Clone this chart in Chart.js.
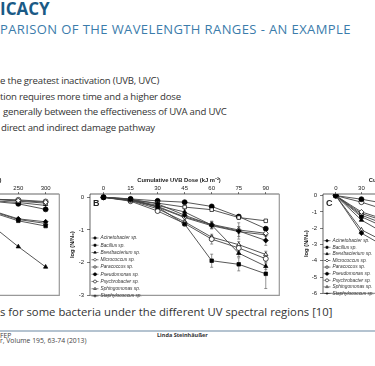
<!DOCTYPE html>
<html>
<head>
<meta charset="utf-8">
<script src="https://cdn.jsdelivr.net/npm/chart.js@4.4.1/dist/chart.umd.min.js"></script>
<style>
body{margin:0;width:375px;height:366px;overflow:hidden;position:relative;background:#fff;font-family:"Open Sans",sans-serif}
.t{position:absolute;white-space:nowrap;line-height:1}
.b{font-size:9.6px;letter-spacing:-0.2px;color:#333}
canvas{position:absolute}
</style>
</head>
<body>
<div class="t" style="left:0;top:0px;font-size:17px;font-weight:700;color:#1a5a86">ICACY</div>
<div class="t" style="left:0;top:22.7px;font-size:13px;letter-spacing:0.4px;color:#3b7cab">PARISON OF THE WAVELENGTH RANGES - AN EXAMPLE</div>
<div class="t b" style="left:0;top:76px">e the greatest inactivation (UVB, UVC)</div>
<div class="t b" style="left:0;top:91.7px">tion requires more time and a higher dose</div>
<div class="t b" style="left:3px;top:107.4px">generally between the effectiveness of UVA and UVC</div>
<div class="t b" style="left:1px;top:123.1px">direct and indirect damage pathway</div>
<div class="t" style="left:0;top:306px;font-size:11.3px;color:#333">s for some bacteria under the different UV spectral regions [10]</div>
<div style="position:absolute;left:0;top:330px;width:375px;height:2px;background:#b4c3d0"></div>
<div class="t" style="left:0;top:333px;font-size:6.8px;color:#444">FEP</div>
<div class="t" style="left:0;top:338px;font-size:6.8px;color:#444">r, Volume 195, 63-74 (2013)</div>
<div class="t" style="left:157px;top:333px;font-size:5.5px;font-weight:700;color:#333">Linda Steinhäußer</div>

<canvas id="chartA" width="226" height="132" style="left:-162px;top:170px"></canvas>
<canvas id="chartB" width="224" height="132" style="left:60px;top:170px"></canvas>
<canvas id="chartC" width="209" height="130" style="left:298px;top:170px"></canvas>

<script>
const species = ['Acinetobacter sp.', 'Bacillus sp.', 'Brevibacterium sp.', 'Micrococcus sp.', 'Paracoccus sp.',
                 'Pseudomonas sp.', 'Psychrobacter sp.', 'Sphingomonas sp.', 'Staphylococcus sp.']

// panel A (UVA), only the right end is in view
const doseA = [200, 250, 300]
const valuesA = [
    [-0.40, -0.66, -0.75],
    [-0.45, -0.72, -0.88],
    [-0.84, -1.51, -2.13],
    [-0.05, -0.10, -0.15],
    [-0.05, -0.12, -0.18],
    [-0.12, -0.20, -0.37],
    [-0.06, -0.08, -0.13],
    [-0.42, -0.68, -0.80],
    [-0.10, -0.16, -0.25]
]

// panel B (UVB)
const doseB = [0, 15, 30, 45, 60, 75, 90]
const valuesB = [
    [0, -0.06, -0.20, -0.55, -0.85, -1.03, -1.32],
    [0, -0.05, -0.30, -0.82, -1.94, -2.05, -2.34],
    [0, -0.08, -0.25, -0.45, -0.85, -1.71, -2.11],
    [0, -0.10, -0.28, -0.60, -0.83, -1.00, -1.10],
    [0, -0.08, -0.18, -0.30, -0.38, -0.62, -0.72],
    [0, -0.05, -0.11, -0.15, -0.28, -0.59, -0.96],
    [0, -0.12, -0.42, -0.80, -1.28, -1.55, -1.88],
    [0, -0.10, -0.35, -0.75, -1.22, -1.45, -1.75],
    [0, -0.08, -0.30, -0.62, -0.87, -1.05, -1.15]
]
const errorsB = [
    [0, 0, 0, 0.05, 0.10, 0.25, 0.15],
    [0, 0, 0, 0.05, 0.20, 0.20, 0.45],
    [0, 0, 0, 0.10, 0.10, 0.10, 0.10],
    [0, 0, 0, 0, 0.10, 0.10, 0.10],
    [0, 0, 0, 0, 0, 0.05, 0],
    [0, 0, 0, 0, 0.05, 0.05, 0.05],
    [0, 0, 0, 0.05, 0.15, 0.10, 0.10],
    [0, 0, 0, 0.05, 0.05, 0.10, 0.10],
    [0, 0, 0, 0.05, 0.10, 0.15, 0.15]
]

// panel C (UVC), only the left end is in view
const doseC = [0, 30, 60]
const valuesC = [
    [0, -2.30, -3.20],
    [0, -1.30, -2.00],
    [0, -1.50, -2.40],
    [0, -1.00, -1.50],
    [0, -1.20, -1.80],
    [0, -0.22, -0.50],
    [0, -0.40, -0.90],
    [0, -2.10, -2.90],
    [0, -1.10, -1.60]
]

const ticksAx = [0, 50, 100, 150, 200, 250, 300]
const ticksBx = [0, 15, 30, 45, 60, 75, 90]
const ticksCx = [0, 30, 60, 90, 120, 150, 180]
const ticksABy = [0, -1, -2, -3]
const ticksCy = [0, -1, -2, -3, -4, -5, -6]

const markers = ['rectRot', 'rect', 'triangle', 'rectRot', 'rect', 'circle', 'circle', 'triangle', 'cross']
const filled = [true, true, true, false, false, true, false, false, true]

Chart.defaults.font.family = '"Liberation Sans", Arial, sans-serif'

function makeSets(dose, values, errors){
    return values.map((vals, i) => ({
        label: species[i],
        data: dose.map((d, j) => ({x: d, y: vals[j]})),
        errors: errors ? errors[i] : null,
        borderColor: '#444',
        borderWidth: 0.9,
        pointStyle: markers[i],
        pointRadius: 2.5,
        pointBorderWidth: 0.7,
        pointBorderColor: '#000',
        pointBackgroundColor: filled[i] ? '#000' : '#fff',
        tension: 0
    }))
}

const panelPlugin = {
    id: 'panel',
    beforeDatasetsDraw(chart){
        const ctx = chart.ctx
        const xs = chart.scales.x, ys = chart.scales.y
        ctx.save()
        ctx.strokeStyle = '#666'
        ctx.lineWidth = 0.7
        chart.data.datasets.forEach(ds => {
            if(!ds.errors) return
            ds.data.forEach((p, i) => {
                const e = ds.errors[i]
                if(!e) return
                const px = xs.getPixelForValue(p.x)
                const y1 = ys.getPixelForValue(p.y + e)
                const y2 = ys.getPixelForValue(p.y - e)
                ctx.beginPath()
                ctx.moveTo(px, y1); ctx.lineTo(px, y2)
                ctx.moveTo(px - 1.5, y1); ctx.lineTo(px + 1.5, y1)
                ctx.moveTo(px - 1.5, y2); ctx.lineTo(px + 1.5, y2)
                ctx.stroke()
            })
        })
        ctx.restore()
    },
    afterDraw(chart, args, o){
        const ctx = chart.ctx, a = chart.chartArea
        ctx.save()
        // frame
        ctx.strokeStyle = '#222'
        ctx.lineWidth = 0.7
        ctx.beginPath()
        ctx.moveTo(a.left, a.bottom); ctx.lineTo(a.left, a.top); ctx.lineTo(a.right, a.top)
        ctx.stroke()
        ctx.strokeStyle = '#999'
        ctx.lineWidth = 1.2
        ctx.beginPath()
        ctx.moveTo(a.right, a.top); ctx.lineTo(a.right, a.bottom); ctx.lineTo(a.left, a.bottom)
        ctx.stroke()

        // axis title
        ctx.fillStyle = '#222'
        ctx.font = 'bold 5.8px "Liberation Sans", Arial'
        ctx.textAlign = 'center'
        ctx.textBaseline = 'middle'
        ctx.fillText(o.title, o.titleX, o.titleY)

        // panel letter
        if(o.letter){
            ctx.font = 'bold 9px "Liberation Sans", Arial'
            ctx.textAlign = 'left'
            ctx.fillText(o.letter, a.left + 3, a.top + o.letterY)
        }

        // legend inside the plot
        if(o.legend){
            ctx.font = 'italic 4.8px "Liberation Sans", Arial'
            ctx.textAlign = 'left'
            chart.data.datasets.forEach((ds, i) => {
                const x = a.left + o.legend.left
                const y = a.top + o.legend.top + i * o.legend.step
                ctx.strokeStyle = '#333'
                ctx.lineWidth = 0.6
                ctx.beginPath(); ctx.moveTo(x - 3.5, y); ctx.lineTo(x + 3.5, y); ctx.stroke()
                ctx.fillStyle = ds.pointBackgroundColor
                ctx.strokeStyle = '#000'
                ctx.lineWidth = 0.6
                Chart.helpers.drawPoint(ctx, {pointStyle: ds.pointStyle, radius: 1.5, borderWidth: 0.6, rotation: 0}, x, y)
                ctx.fillStyle = '#333'
                ctx.fillText(ds.label, x + 5.5, y)
            })
        }
        ctx.restore()
    }
}

function axisX(min, max, ticks){
    return {
        type: 'linear', position: 'top', min: min, max: max,
        afterBuildTicks: s => { s.ticks = ticks.map(v => ({value: v})) },
        afterFit: s => { s.height = 24 },
        grid: {drawOnChartArea: false, tickLength: 2, color: '#222', lineWidth: 0.6},
        border: {display: false},
        ticks: {font: {size: 6}, color: '#222', padding: 0, maxRotation: 0, autoSkip: false}
    }
}

function axisY(min, max, ticks, w, pad){
    return {
        min: min, max: max,
        afterBuildTicks: s => { s.ticks = ticks.map(v => ({value: v})) },
        afterFit: s => { s.width = w },
        grid: {drawOnChartArea: false, tickLength: 3, color: '#222', lineWidth: 0.6},
        border: {display: false},
        ticks: {font: {size: 6}, color: '#222', padding: 3, autoSkip: false},
        title: {display: true, text: 'log (N/N₀)', font: {size: 5.8, weight: 'bold'}, color: '#222', padding: {top: pad, bottom: 0}}
    }
}

function makePanel(id, sets, xScale, yScale, panel, pad){
    new Chart(document.getElementById(id), {
        type: 'line',
        data: {datasets: sets},
        options: {
            responsive: false,
            animation: false,
            devicePixelRatio: 1,
            layout: {padding: pad},
            scales: {x: xScale, y: yScale},
            plugins: {legend: {display: false}, tooltip: {enabled: false}, panel: panel}
        },
        plugins: [panelPlugin]
    })
}

makePanel('chartA', makeSets(doseA, valuesA),
    axisX(-25, 325, ticksAx), axisY(-3, 0.1, ticksABy, 30, 9),
    {title: 'Cumulative UVA Dose (kJ m⁻²)', titleX: 122, titleY: 10},
    {top: 0, right: 2, bottom: 1, left: 0})

makePanel('chartB', makeSets(doseB, valuesB, errorsB),
    axisX(-7.5, 97.5, ticksBx), axisY(-3, 0.1, ticksABy, 30, 9),
    {title: 'Cumulative UVB Dose (kJ m⁻²)', titleX: 119, titleY: 10, letter: 'B', letterY: 10,
     legend: {left: 5, top: 44, step: 7.25}},
    {top: 0, right: 2, bottom: 1, left: 0})

makePanel('chartC', makeSets(doseC, valuesC),
    axisX(-15, 195, ticksCx), axisY(-6, 0.1, ticksCy, 25, 5),
    {title: 'Cumulative UVC Dose (J m⁻²)', titleX: 111, titleY: 10, letter: 'C', letterY: 10,
     legend: {left: 4, top: 46.7, step: 6.6}},
    {top: 0, right: 2, bottom: 1, left: 0})
</script>
</body>
</html>
